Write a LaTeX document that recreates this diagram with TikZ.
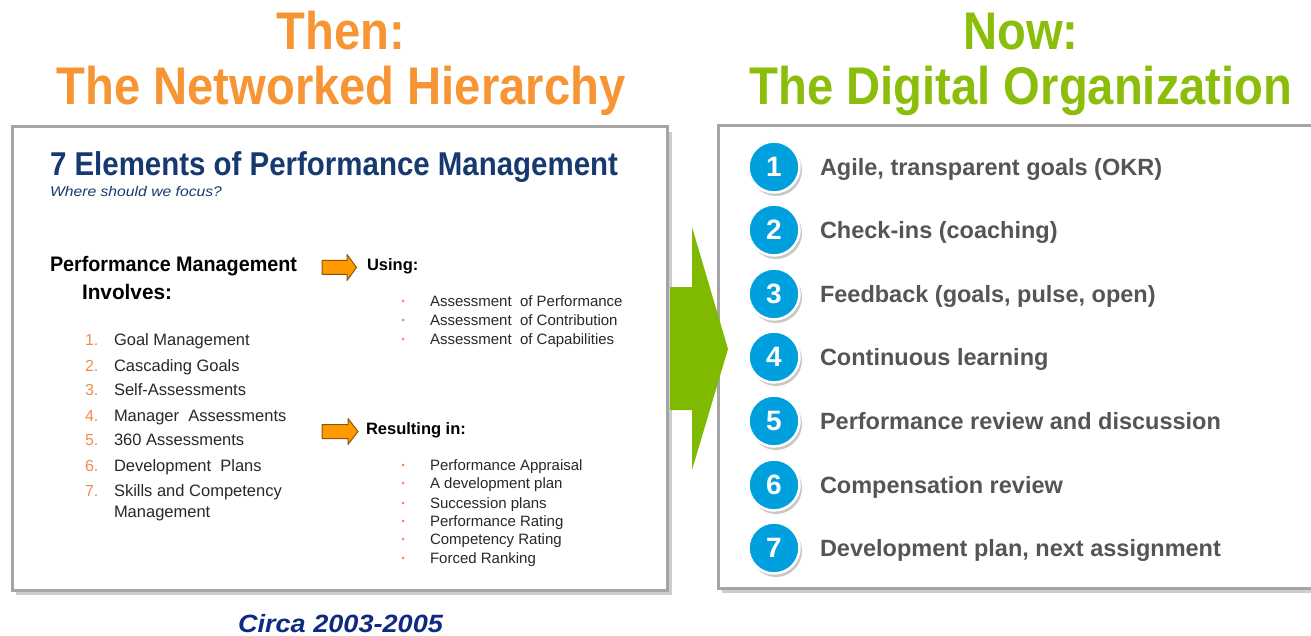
\documentclass[tikz,border=0pt]{standalone}
\usepackage{fontspec}
\setmainfont{Liberation Sans}
\definecolor{thenorange}{RGB}{247,148,51}
\definecolor{nowgreen}{RGB}{138,190,10}
\definecolor{arrowgreen}{RGB}{128,186,0}
\definecolor{boxgray}{RGB}{165,165,165}
\definecolor{shadowgray}{RGB}{205,205,205}
\definecolor{navy}{RGB}{22,58,112}
\definecolor{circanavy}{RGB}{16,42,130}
\definecolor{circblue}{RGB}{0,160,222}
\definecolor{txtgray}{RGB}{85,85,85}
\definecolor{listgray}{RGB}{40,40,40}
\definecolor{arroworange}{RGB}{255,153,0}
\definecolor{arrowedge}{RGB}{140,85,10}
\definecolor{listorange}{RGB}{242,140,80}
\newcommand{\narrowtxt}[1]{\scalebox{0.89}[1]{#1}}
\newcommand{\fitw}[2]{\resizebox{#1}{\height}{#2}}
\begin{document}
\begin{tikzpicture}[x=1pt,y=-1pt,
  every node/.style={inner sep=0pt, outer sep=0pt},
  titletxt/.style={font=\fontsize{53}{60}\selectfont\bfseries, anchor=base},
  panel/.style={draw=boxgray, line width=3pt, fill=white},
  panelshadow/.style={fill=shadowgray, draw=none},
  smallarrow/.style={fill=arroworange, draw=arrowedge, line width=1pt, line join=round},
  headtxt/.style={font=\fontsize{16.5}{18}\selectfont\bfseries, anchor=base west, text=black},
  numtxt/.style={font=\fontsize{16}{18}\selectfont, anchor=base west, text=listorange},
  itemtxt/.style={font=\fontsize{16.5}{18}\selectfont, anchor=base west, text=listgray},
  bullettxt/.style={font=\fontsize{15}{16}\selectfont, anchor=base west, text=listgray},
  bulletdot/.style={fill=listorange, circle, minimum size=3pt},
  circnum/.style={circle, fill=circblue, draw=white, line width=2.5pt, minimum size=51pt,
     text=white, font=\fontsize{28}{30}\selectfont\bfseries},
  circshadow/.style={circle, fill=black!22, minimum size=52pt},
  nowtxt/.style={font=\fontsize{23.5}{26}\selectfont\bfseries, anchor=base west, text=txtgray}
]
\useasboundingbox (0,0) rectangle (1311,636);
\fill[white] (0,0) rectangle (1311,636);

% ---------- titles ----------
\node[titletxt, text=thenorange] (then1) at (341,50) {\narrowtxt{Then:}};
\node[titletxt, text=thenorange] (then2) at (341,105) {\narrowtxt{The Networked Hierarchy}};
\node[titletxt, text=nowgreen] (now1) at (1021,50) {\narrowtxt{Now:}};
\node[titletxt, text=nowgreen] (now2) at (1021,105) {\narrowtxt{The Digital Organization}};

% ---------- left panel ----------
\fill[panelshadow] (16,132) rectangle (672,595);
\draw[panel] (12,127) rectangle (667,590);

\node[font=\fontsize{33}{36}\selectfont\bfseries, text=navy, anchor=base west] (lhead) at (50,176)
  {\fitw{568pt}{7 Elements of Performance Management}};
\node[font=\fontsize{14}{16}\selectfont\itshape, text=navy, anchor=base west] (lsub) at (50,197)
  {\fitw{172pt}{Where should we focus?}};

\node[font=\fontsize{21}{22}\selectfont\bfseries, anchor=base west] (pm1) at (50,272)
  {\fitw{247pt}{Performance Management}};
\node[font=\fontsize{21}{22}\selectfont\bfseries, anchor=base west] (pm2) at (82,299)
  {\fitw{90pt}{Involves:}};

% numbered list
\foreach \n/\t/\y in {1/Goal Management/345, 2/Cascading Goals/371, 3/Self-Assessments/395,
   4/Manager\ \ Assessments/421, 5/360 Assessments/445, 6/Development\ \ Plans/471,
   7/Skills and Competency/496}{
  \node[numtxt] (num\n) at (85,\y) {\n.};
  \node[itemtxt] (item\n) at (114,\y) {\t};
}
\node[itemtxt] (item7b) at (114,517) {Management};

% small orange arrows
\draw[smallarrow] (322,260.5) -- (347,260.5) -- (347,254.5) -- (356.5,267.5) -- (347,280.5)
  -- (347,274.5) -- (322,274.5) -- cycle;
\draw[smallarrow] (322,424.5) -- (348,424.5) -- (348,418.5) -- (358,431.5) -- (348,444.5)
  -- (348,438.5) -- (322,438.5) -- cycle;
\node[headtxt] (using) at (367,271) {Using:};
\node[headtxt] (result) at (366,434) {Resulting in:};

\foreach \i/\t/\y in {1/Assessment\ \ of Performance/306, 2/Assessment\ \ of Contribution/325,
   3/Assessment\ \ of Capabilities/344}{
  \node[bulletdot] (ud\i) at (403,\y-5) {};
  \node[bullettxt] (ut\i) at (430,\y) {\t};
}
\foreach \i/\t/\y in {1/Performance Appraisal/470, 2/A development plan/488, 3/Succession plans/508,
   4/Performance Rating/526, 5/Competency Rating/544, 6/Forced Ranking/563}{
  \node[bulletdot] (rd\i) at (403,\y-5) {};
  \node[bullettxt] (rt\i) at (430,\y) {\t};
}

\node[font=\fontsize{25}{28}\selectfont\bfseries\itshape, text=circanavy, anchor=base] (circa) at (340.5,632)
  {\fitw{205pt}{Circa 2003-2005}};

% ---------- right panel ----------
\fill[panelshadow] (722,131) rectangle (1330,593);
\draw[panel] (718,126) rectangle (1330,588);

\foreach \n/\t/\y in {1/{Agile, transparent goals (OKR)}/167, 2/Check-ins (coaching)/230,
   3/{Feedback (goals, pulse, open)}/294, 4/Continuous learning/357,
   5/Performance review and discussion/421, 6/Compensation review/485,
   7/{Development plan, next assignment}/548}{
  \node[circshadow] (cs\n) at (776,\y+3) {};
  \node[circnum] (c\n) at (774,\y) {\n};
  \node[nowtxt] (t\n) at (820,\y+8.5) {\t};
}

% ---------- big green arrow ----------
\fill[arrowgreen] (670,287) -- (692,287) -- (692,227) -- (728,349) -- (692,470)
  -- (692,410) -- (670,410) -- cycle;
\end{tikzpicture}
\end{document}
